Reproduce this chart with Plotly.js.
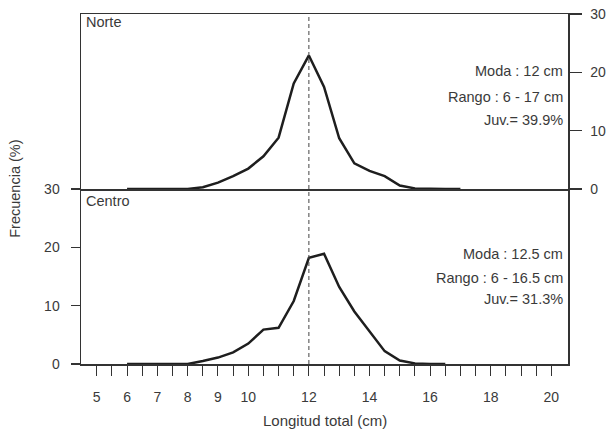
<!DOCTYPE html>
<html>
<head>
<meta charset="utf-8">
<script src="https://cdn.plot.ly/plotly-3.0.1.min.js"></script>
<style>html,body{margin:0;padding:0;background:#fff;}#chart{width:607px;height:432px;}</style>
</head>
<body>
<div id="chart"></div>
<script>
// Data (Longitud total, cm) and Frecuencia (%)
const lengthNorte = [6,6.5,7,7.5,8,8.5,9,9.5,10,10.5,11,11.5,12,12.5,13,13.5,14,14.5,15,15.5,16,16.5,17];
const freqNorte   = [0,0,0,0,0,0.3,1.1,2.2,3.5,5.6,8.8,18.1,22.9,17.5,8.7,4.4,3.1,2.2,0.6,0.1,0,0,0];
const lengthCentro = [6,6.5,7,7.5,8,8.5,9,9.5,10,10.5,11,11.5,12,12.5,13,13.5,14,14.5,15,15.5,16,16.5];
const freqCentro   = [0,0,0,0,0,0.5,1.1,2.0,3.5,5.9,6.2,10.8,18.2,18.9,13.2,9.0,5.6,2.2,0.6,0.1,0,0];
const labeledTicks = [5,6,7,8,9,10,12,14,16,18,20];
const yTicks = [0,10,20,30];
const modeLine = 12;
const panelNames = ["Norte","Centro"];
const statsNorte = ["Moda : 12 cm","Rango : 6 - 17 cm","Juv.= 39.9%"];
const statsCentro = ["Moda : 12.5 cm","Rango : 6 - 16.5 cm","Juv.= 31.3%"];

const tickVals = [], tickText = [];
for (let v = 5; v <= 20.001; v += 0.5) {
  tickVals.push(v);
  tickText.push(labeledTicks.indexOf(v) >= 0 ? String(v) : "");
}

const FONT = "Liberation Sans, Arial, sans-serif";
const TXT = "#3a3a3a";
const LINE = "#333333";

const traces = [
  {x: lengthNorte, y: freqNorte, xaxis: "x2", yaxis: "y2", mode: "lines",
   line: {color: "#1e1e1e", width: 2.5}, hoverinfo: "skip"},
  {x: lengthCentro, y: freqCentro, xaxis: "x", yaxis: "y", mode: "lines",
   line: {color: "#1e1e1e", width: 2.5}, hoverinfo: "skip"}
];

const anns = [];
const statY1 = [20.3, 15.8, 11.8];
const statY2 = [18.9, 14.8, 11.2];
statsNorte.forEach((t, i) => anns.push({text: t, xref: "paper", yref: "y2", x: 0.993, y: statY1[i],
  xanchor: "right", yanchor: "middle", showarrow: false, font: {family: FONT, size: 14.5, color: TXT}}));
statsCentro.forEach((t, i) => anns.push({text: t, xref: "paper", yref: "y", x: 0.993, y: statY2[i],
  xanchor: "right", yanchor: "middle", showarrow: false, font: {family: FONT, size: 14.5, color: TXT}}));
anns.push({text: panelNames[0], xref: "paper", yref: "y2", x: 0.006, y: 28.6, xanchor: "left", yanchor: "middle",
  showarrow: false, font: {family: FONT, size: 14.5, color: TXT}});
anns.push({text: panelNames[1], xref: "paper", yref: "y", x: 0.006, y: 27.9, xanchor: "left", yanchor: "middle",
  showarrow: false, font: {family: FONT, size: 14.5, color: TXT}});
anns.push({text: "Frecuencia (%)", xref: "paper", yref: "paper", x: -0.136, y: 0.5, textangle: -90,
  xanchor: "center", yanchor: "middle", showarrow: false, font: {family: FONT, size: 14.5, color: TXT}});
anns.push({text: "Longitud total (cm)", xref: "paper", yref: "paper", x: 0.5, y: -0.16,
  xanchor: "center", yanchor: "middle", showarrow: false, font: {family: FONT, size: 15, color: TXT}});

const xr = [4.48, 20.55];
const layout = {
  width: 607, height: 432,
  margin: {l: 81, r: 39, t: 14, b: 68},
  paper_bgcolor: "#fff", plot_bgcolor: "#fff",
  showlegend: false,
  font: {family: FONT, size: 14, color: TXT},
  xaxis: {domain: [0, 1], anchor: "y", range: xr, tickmode: "array", tickvals: tickVals, ticktext: tickText,
    ticks: "outside", ticklen: 10, tickwidth: 1, tickcolor: LINE, showline: true, linecolor: LINE, linewidth: 1.5,
    mirror: false, showgrid: false, zeroline: false, ticklabelstandoff: 10, tickfont: {size: 14, color: TXT}},
  yaxis: {domain: [0, 0.5], anchor: "x", range: [0, 30], tickmode: "array", tickvals: yTicks,
    ticks: "outside", ticklen: 9, tickwidth: 1.2, tickcolor: LINE, showline: true, linecolor: LINE, linewidth: 1.5,
    mirror: true, showgrid: false, zeroline: false, ticklabelstandoff: 8, tickfont: {size: 14, color: TXT}},
  xaxis2: {domain: [0, 1], anchor: "y2", range: xr, matches: "x", showticklabels: false, ticks: "",
    showline: true, linecolor: LINE, linewidth: 1.5, mirror: true, showgrid: false, zeroline: false},
  yaxis2: {domain: [0.5, 1], anchor: "x2", side: "right", range: [0, 30], tickmode: "array", tickvals: yTicks,
    ticks: "outside", ticklen: 12, tickwidth: 1.2, tickcolor: LINE, showline: true, linecolor: LINE, linewidth: 1.5,
    mirror: true, showgrid: false, zeroline: false, ticklabelstandoff: 6, tickfont: {size: 14, color: TXT}},
  shapes: [{type: "line", xref: "x", yref: "paper", x0: modeLine, x1: modeLine, y0: 0, y1: 1,
    line: {color: "#444", width: 1, dash: "4px,3px"}}],
  annotations: anns
};

Plotly.newPlot("chart", traces, layout, {staticPlot: true, displayModeBar: false});
</script>
</body>
</html>
